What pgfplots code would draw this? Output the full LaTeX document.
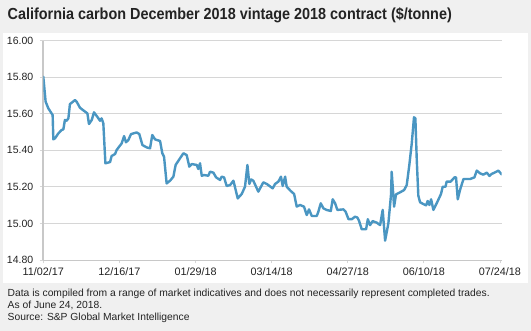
\documentclass[border=0pt]{standalone}
\usepackage{fontspec}
\setmainfont{Liberation Sans}
\newfontfamily\titlefont[FakeStretch=0.9]{Liberation Sans}
\usepackage{pgfplots}
\pgfplotsset{compat=1.18}
\definecolor{bg}{RGB}{240,240,240}
\definecolor{gridc}{RGB}{214,214,214}
\definecolor{axisg}{RGB}{200,200,200}
\definecolor{linec}{RGB}{74,150,194}
\definecolor{txt}{RGB}{35,35,35}
\begin{document}
\begin{tikzpicture}[x=1pt,y=1pt]
\fill[bg] (0,0) rectangle (531,331);
\fill[white] (3,48) rectangle (528,298);
\node[anchor=west, inner sep=0pt, text=txt, font=\titlefont\fontsize{16}{18}\selectfont\bfseries] at (7.5,316) {California carbon December 2018 vintage 2018 contract (\$/tonne)};
\begin{axis}[
  at={(43.3pt,71pt)}, anchor=south west,
  scale only axis, width=458.4pt, height=219.3pt,
  xmin=0, xmax=265, ymin=14.8, ymax=16,
  axis x line*=bottom, axis y line*=left,
  xtick={0,44,88,132,176,220,264},
  xticklabels={11/02/17,12/16/17,01/29/18,03/14/18,04/27/18,06/10/18,07/24/18},
  ytick={14.8,15.0,15.2,15.4,15.6,15.8,16.0},
  yticklabel style={/pgf/number format/fixed,/pgf/number format/precision=2,/pgf/number format/fixed zerofill},
  /pgf/number format/assume math mode=true,
  yticklabel style={font=\fontsize{10.5}{12}\selectfont, text=txt},
  xticklabel style={font=\fontsize{10.8}{12}\selectfont, text=txt},
  ymajorgrids, grid style={gridc, line width=0.8pt},
  y axis line style={axisg, line width=2pt},
  x axis line style={axisg, line width=0.8pt},
  tick align=outside, major tick length=3.5pt,
  tick style={gridc, line width=0.8pt},
  xticklabel style={yshift=-1pt},
  yticklabel style={xshift=-3pt},
]
\addplot[linec, line width=2.4pt, line join=round, line cap=round] coordinates {
(0,15.803)(1.35,15.666)(2.9,15.630)(5.4,15.593)(5.8,15.460)(6.8,15.466)(8.7,15.493)(10.6,15.511)(11.6,15.515)(12.5,15.566)(13.5,15.562)(14.5,15.575)(15.4,15.653)(18.3,15.675)(19.3,15.666)(21.2,15.633)(24.1,15.612)(25.5,15.602)(26.4,15.544)(28.0,15.566)(29.3,15.608)(31.2,15.584)(32.8,15.562)(33.7,15.575)(34.7,15.548)(35.9,15.329)(38.6,15.336)(39.5,15.369)(41.5,15.380)(42.4,15.402)(45.3,15.438)(46.7,15.478)(47.8,15.444)(49.2,15.457)(50.7,15.489)(54.0,15.498)(55.5,15.489)(57.3,15.429)(59.8,15.416)(61.7,15.411)(63.0,15.484)(64.6,15.460)(67.5,15.451)(68.8,15.384)(69.8,15.365)(71.3,15.219)(73.3,15.234)(75.2,15.256)(76.5,15.320)(79.0,15.356)(81.0,15.384)(82.9,15.374)(84.4,15.311)(85.8,15.325)(88.7,15.320)(89.6,15.298)(90.6,15.329)(91.6,15.261)(92.9,15.265)(95.4,15.261)(96.4,15.283)(98.3,15.278)(99.9,15.252)(102.2,15.238)(103.1,15.256)(104.5,15.252)(106.0,15.205)(108.0,15.210)(109.9,15.234)(112.4,15.137)(114.7,15.161)(116.6,15.201)(118.0,15.320)(119.1,15.216)(120.1,15.241)(121.4,15.234)(124.3,15.174)(127.2,15.225)
(129.2,15.216)(132.6,15.192)(134.0,15.216)(135.9,15.229)(137.4,15.256)(138.4,15.205)(139.8,15.256)(140.7,15.201)(143.0,15.178)(145.0,15.161)(146.5,15.092)(148.4,15.101)(150.7,15.092)(152.3,15.046)(153.6,15.077)(155.2,15.041)(158.1,15.041)(159.0,15.064)(160.4,15.110)(161.9,15.083)(163.8,15.074)(166.2,15.068)(167.3,15.132)(168.7,15.110)(170.0,15.074)(173.5,15.077)(174.8,15.064)(176.4,15.024)(178.3,15.023)(180.2,15.037)(181.6,15.032)(182.5,15.015)(184.1,14.968)(186.6,14.968)(187.6,15.023)(188.9,14.991)(190.4,15.013)(192.8,15.004)(194.7,14.991)(196.2,15.074)(197.6,14.906)(199.5,15.001)(201.0,15.156)(201.4,15.283)(202.8,15.092)(203.9,15.159)(206.2,15.170)(208.6,15.183)(210.1,15.210)(211.6,15.320)(213.0,15.438)(214.3,15.581)(215.1,15.575)(215.9,15.347)(216.8,15.152)(217.8,15.116)(219.7,15.106)(221.3,15.099)(222.2,15.123)(223.2,15.101)(224.2,15.132)(225.5,15.074)(227.4,15.110)(229.9,15.161)(230.9,15.201)(232.5,15.201)(233.2,15.229)(235.5,15.229)(237.7,15.252)(238.6,15.252)(239.6,15.132)(240.9,15.183)(242.9,15.243)(246.7,15.243)(249.2,15.252)(250.6,15.289)(252.5,15.274)(254.4,15.267)(256.4,15.278)(257.9,15.260)(259.2,15.271)(260.8,15.278)(263.1,15.289)(265.0,15.268)
};
\end{axis}
\node[anchor=base west, inner sep=0pt, text=txt, font=\fontsize{10.3}{12}\selectfont] at (7.5,34.3) {Data is compiled from a range of market indicatives and does not necessarily represent completed trades.};
\node[anchor=base west, inner sep=0pt, text=txt, font=\fontsize{10.3}{12}\selectfont] at (7.5,22.3) {As of June 24, 2018.};
\node[anchor=base west, inner sep=0pt, text=txt, font=\fontsize{10.3}{12}\selectfont] at (7.5,10.3) {Source: S\&P Global Market Intelligence};
\pgfresetboundingbox
\path (0,0) rectangle (531,331);
\end{tikzpicture}
\end{document}
